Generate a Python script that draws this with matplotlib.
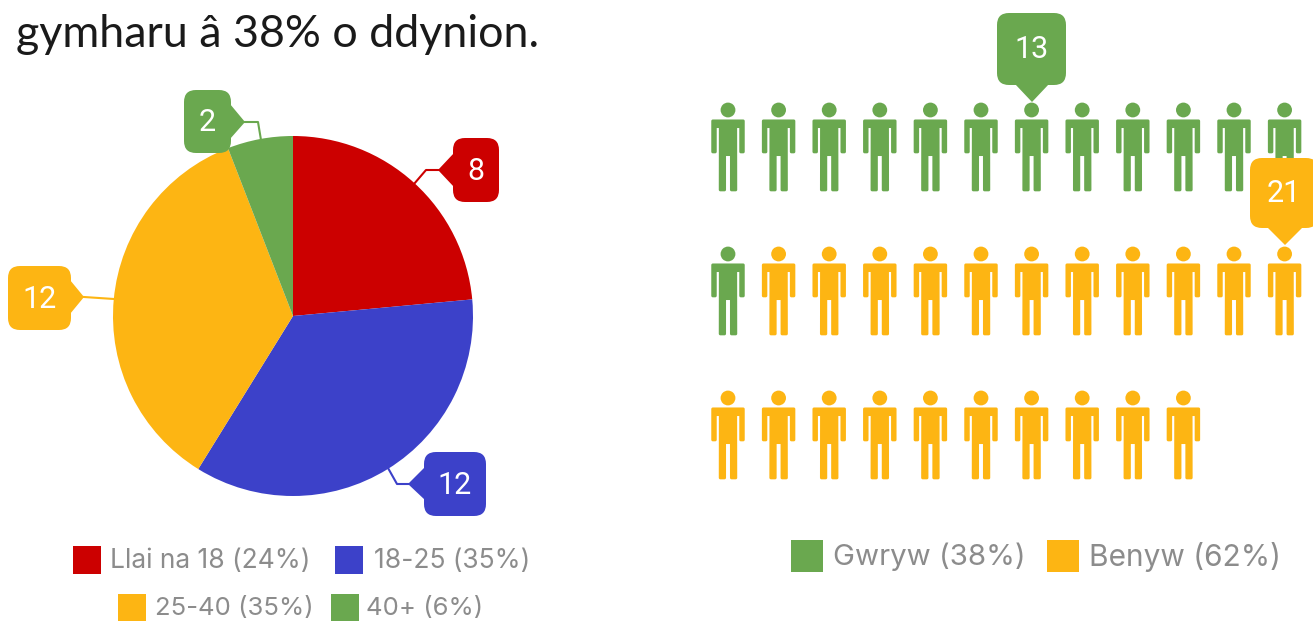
#!/usr/bin/env python3

import matplotlib
matplotlib.use("Agg")
import matplotlib.pyplot as plt
from matplotlib.patches import Circle, FancyBboxPatch, Polygon, Rectangle

title = "gymharu â 38% o ddynion."

age_labels = ["Llai na 18 (24%)", "18-25 (35%)", "25-40 (35%)", "40+ (6%)"]
age_counts = [8, 12, 12, 2]
gender_labels = ["Gwryw (38%)", "Benyw (62%)"]
gender_counts = [13, 21]

RED = "#cc0000"
BLUE = "#3c41c9"
GOLD = "#fdb513"
GREEN = "#6aa84f"
GREY = "#8c8c8c"
age_colors = [RED, BLUE, GOLD, GREEN]
gender_colors = [GREEN, GOLD]

W, H = 1313, 621


def person_patches(cx, top, color):
  # x offset from the middle, y offset from the head centre, all in pixels
  half = [(15.2, 11), (15.2, 41.8), (12.8, 41.8), (12.8, 16.5), (7.6, 16.5),
          (7.7, 79.8), (3.5, 79.8), (3.5, 44.5)]
  right = [(cx + x, top + y) for x, y in half]
  left = [(cx - x, top + y) for x, y in reversed(half)]
  body = Polygon(right + left, closed=True, fc=color, ec=color, lw=2.2,
                 joinstyle="round")
  head = Circle((cx, top), 7.4, fc=color, ec="none")
  return [body, head]


def callout(ax, box, tip, base, text, color, leader=None, text_size=22):
  x0, y0, x1, y1 = box
  rad = 12
  ax.add_patch(FancyBboxPatch((x0 + rad, y0 + rad), x1 - x0 - 2 * rad,
                              y1 - y0 - 2 * rad,
                              boxstyle=f"round,pad={rad},rounding_size={rad}",
                              fc=color, ec="none", zorder=5))
  ax.add_patch(Polygon([base[0], tip, base[1]], closed=True, fc=color, ec="none",
                       zorder=5))
  if leader:
    xs, ys = zip(*leader)
    ax.plot(xs, ys, color=color, lw=1.5, zorder=4)
  ax.text((x0 + x1) / 2, (y0 + y1) / 2 + 1, text, color="white",
          fontsize=text_size, family="Roboto", ha="center", va="center", zorder=6)


def legend_item(ax, x, y, size, label, color, text_x, fontsize):
  ax.add_patch(Rectangle((x, y), size, size, fc=color, ec="none"))
  ax.text(text_x, y + size / 2 + 1, label, color=GREY, fontsize=fontsize,
          family="Inter", ha="left", va="center")


fig = plt.figure(figsize=(W / 100, H / 100), dpi=100)
ax = fig.add_axes([0, 0, 1, 1])
ax.set_xlim(0, W)
ax.set_ylim(H, 0)
ax.axis("off")

ax.text(16, 47, title, fontsize=32.3, family=["Lato", "DejaVu Sans"], color="#1a1a1a",
        ha="left", va="baseline")

# Pie, on its own axes so the y axis is not flipped
pie_cx, pie_cy, pie_r = 293, 316, 180
pie_ax = fig.add_axes([(pie_cx - pie_r) / W, 1 - (pie_cy + pie_r) / H,
                       2 * pie_r / W, 2 * pie_r / H])
pie_ax.pie(age_counts, colors=age_colors, startangle=90, counterclock=False,
           radius=1, wedgeprops={"lw": 0})
pie_ax.set_xlim(-1, 1)
pie_ax.set_ylim(-1, 1)
pie_ax.patch.set_alpha(0)

over = fig.add_axes([0, 0, 1, 1])
over.set_xlim(0, W)
over.set_ylim(H, 0)
over.axis("off")
over.patch.set_alpha(0)

callout(over, (453, 138, 499, 202), (438, 170), [(454, 153), (454, 187)],
        str(age_counts[0]), RED, [(414, 184), (426, 170), (438, 170)])
callout(over, (424, 452, 486, 516), (408, 484), [(425, 467), (425, 500)],
        str(age_counts[1]), BLUE, [(388, 468), (397, 484), (408, 484)])
callout(over, (8, 266, 71, 330), (84, 297), [(70, 280), (70, 314)],
        str(age_counts[2]), GOLD, [(84, 297), (114, 299)])
callout(over, (184, 90, 231, 153), (245, 122), [(230, 104), (230, 139)],
        str(age_counts[3]), GREEN, [(245, 122), (258, 122), (261, 140)])

# One figure per person, 12 to a row
colors = [gender_colors[0]] * gender_counts[0] + [gender_colors[1]] * gender_counts[1]
for i, color in enumerate(colors):
  cx = 728 + (i % 12) * 50.6
  top = 110 + (i // 12) * 144
  for patch in person_patches(cx, top, color):
    ax.add_patch(patch)

callout(over, (997, 13, 1066, 85), (1032, 102), [(1015, 84), (1049, 84)],
        str(gender_counts[0]), GREEN)
callout(over, (1250, 158, 1318, 228), (1285, 245), [(1267, 227), (1303, 227)],
        str(gender_counts[1]), GOLD)

# Legends
legend_item(over, 73, 546, 28, age_labels[0], age_colors[0], 110, 19)
legend_item(over, 335, 546, 28, age_labels[1], age_colors[1], 374, 19)
legend_item(over, 118, 594, 28, age_labels[2], age_colors[2], 155, 18.5)
legend_item(over, 331, 594, 28, age_labels[3], age_colors[3], 366, 18.5)
legend_item(over, 791, 540, 32, gender_labels[0], gender_colors[0], 833, 21.2)
legend_item(over, 1047, 540, 32, gender_labels[1], gender_colors[1], 1089, 21.5)

fig.savefig("out.png", dpi=100)
